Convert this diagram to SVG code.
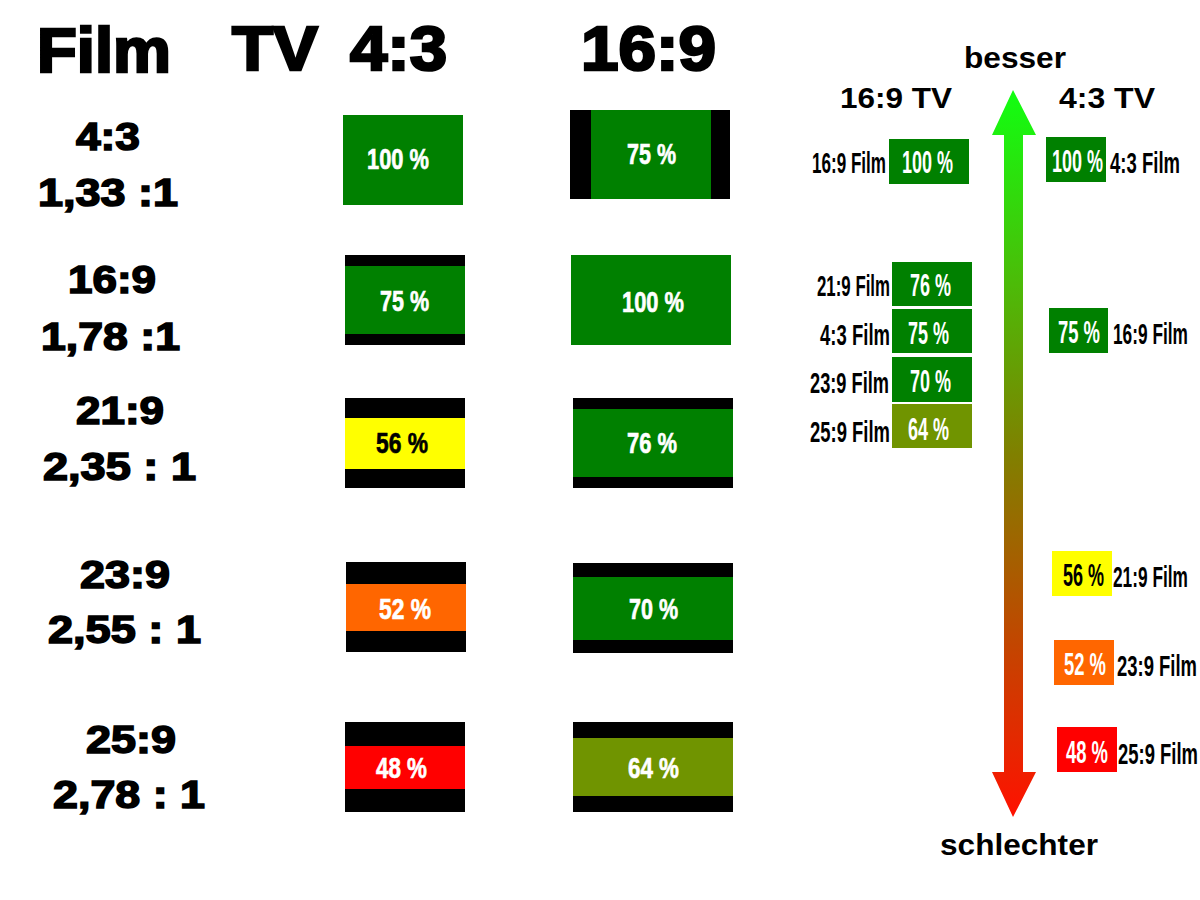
<svg xmlns="http://www.w3.org/2000/svg" width="1200" height="900" viewBox="0 0 1200 900">
<style>
text{font-family:"Liberation Sans",Arial,sans-serif;font-weight:bold}
.h{font-size:63px;fill:#000;stroke:#000;stroke-width:2.6}
.l{font-size:39px;fill:#000;stroke:#000;stroke-width:1.6}
.p{font-size:22px;fill:#fff;stroke:#fff;stroke-width:0.5}
.pk{fill:#000;stroke:#000}
.s{font-size:30px;fill:#000}
.n{font-size:17.5px;fill:#000}
.w{font-size:17.5px;fill:#fff}
.bk{fill:#000}.g{fill:#008000}.y{fill:#ffff00}.o{fill:#ff6600}.r{fill:#ff0000}.ol{fill:#709400}
</style>
<defs>
<linearGradient id="grad" gradientUnits="userSpaceOnUse" x1="0" y1="90" x2="0" y2="817">
<stop offset="0" stop-color="#11ff11"/>
<stop offset="0.5" stop-color="#808000"/>
<stop offset="1" stop-color="#ff1100"/>
</linearGradient>
</defs>
<rect width="1200" height="900" fill="#fff"/>

<g id="headers">
<text class="h" x="37" y="72" textLength="134" lengthAdjust="spacingAndGlyphs">Film</text>
<text class="h" x="232" y="70" textLength="86" lengthAdjust="spacingAndGlyphs">TV</text>
<text class="h" x="350" y="70" textLength="97" lengthAdjust="spacingAndGlyphs">4:3</text>
<text class="h" x="581" y="70" textLength="135" lengthAdjust="spacingAndGlyphs">16:9</text>
</g>

<g id="film-labels">
<text class="l" x="76" y="150" textLength="64" lengthAdjust="spacingAndGlyphs">4:3</text>
<text class="l" x="38" y="206" textLength="140" lengthAdjust="spacingAndGlyphs">1,33 :1</text>
<text class="l" x="68" y="293" textLength="88" lengthAdjust="spacingAndGlyphs">16:9</text>
<text class="l" x="41" y="350" textLength="139" lengthAdjust="spacingAndGlyphs">1,78 :1</text>
<text class="l" x="76" y="424" textLength="88" lengthAdjust="spacingAndGlyphs">21:9</text>
<text class="l" x="43" y="480" textLength="153" lengthAdjust="spacingAndGlyphs">2,35 : 1</text>
<text class="l" x="80" y="588" textLength="90" lengthAdjust="spacingAndGlyphs">23:9</text>
<text class="l" x="48" y="643" textLength="153" lengthAdjust="spacingAndGlyphs">2,55 : 1</text>
<text class="l" x="86" y="753" textLength="90" lengthAdjust="spacingAndGlyphs">25:9</text>
<text class="l" x="53" y="808" textLength="152" lengthAdjust="spacingAndGlyphs">2,78 : 1</text>
</g>

<g id="tv43">
<g id="tv43-r1"><rect class="g" x="343" y="115" width="120" height="90"/>
<text class="p" transform="translate(367,169) scale(1,1.33)" textLength="62" lengthAdjust="spacingAndGlyphs">100 %</text></g>
<g id="tv43-r2"><rect class="bk" x="345" y="255" width="120" height="90"/><rect class="g" x="345" y="266" width="120" height="68"/>
<text class="p" transform="translate(380,311) scale(1,1.33)" textLength="49" lengthAdjust="spacingAndGlyphs">75 %</text></g>
<g id="tv43-r3"><rect class="bk" x="345" y="398" width="120" height="90"/><rect class="y" x="345" y="418" width="120" height="51"/>
<text class="p pk" transform="translate(376,453) scale(1,1.33)" textLength="52" lengthAdjust="spacingAndGlyphs">56 %</text></g>
<g id="tv43-r4"><rect class="bk" x="346" y="562" width="120" height="90"/><rect class="o" x="346" y="584" width="120" height="47"/>
<text class="p" transform="translate(379,619) scale(1,1.33)" textLength="52" lengthAdjust="spacingAndGlyphs">52 %</text></g>
<g id="tv43-r5"><rect class="bk" x="345" y="722" width="120" height="90"/><rect class="r" x="345" y="746" width="120" height="43"/>
<text class="p" transform="translate(376,778) scale(1,1.33)" textLength="51" lengthAdjust="spacingAndGlyphs">48 %</text></g>
</g>

<g id="tv169">
<g id="tv169-r1"><rect class="bk" x="570" y="110" width="160" height="89"/><rect class="g" x="591" y="110" width="120" height="89"/>
<text class="p" transform="translate(627,164) scale(1,1.33)" textLength="49" lengthAdjust="spacingAndGlyphs">75 %</text></g>
<g id="tv169-r2"><rect class="g" x="571" y="255" width="160" height="90"/>
<text class="p" transform="translate(622,312) scale(1,1.33)" textLength="62" lengthAdjust="spacingAndGlyphs">100 %</text></g>
<g id="tv169-r3"><rect class="bk" x="573" y="398" width="160" height="90"/><rect class="g" x="573" y="409" width="160" height="68"/>
<text class="p" transform="translate(627,453) scale(1,1.33)" textLength="50" lengthAdjust="spacingAndGlyphs">76 %</text></g>
<g id="tv169-r4"><rect class="bk" x="573" y="563" width="160" height="90"/><rect class="g" x="573" y="577" width="160" height="63"/>
<text class="p" transform="translate(629,619) scale(1,1.33)" textLength="49" lengthAdjust="spacingAndGlyphs">70 %</text></g>
<g id="tv169-r5"><rect class="bk" x="573" y="722" width="160" height="90"/><rect class="ol" x="573" y="738" width="160" height="58"/>
<text class="p" transform="translate(628,778) scale(1,1.33)" textLength="51" lengthAdjust="spacingAndGlyphs">64 %</text></g>
</g>

<g id="connectors">
<path d="M1013,90 L1036,135 L1023,135 L1023,772 L1036,772 L1013,817 L992,772 L1004,772 L1004,135 L992,135 Z" fill="url(#grad)"/>
</g>

<g id="scale-labels">
<text class="s" x="964" y="68" textLength="102" lengthAdjust="spacingAndGlyphs">besser</text>
<text class="s" x="940" y="855" textLength="158" lengthAdjust="spacingAndGlyphs">schlechter</text>
<text class="s" x="840" y="108" textLength="112" lengthAdjust="spacingAndGlyphs">16:9 TV</text>
<text class="s" x="1059" y="108" textLength="96" lengthAdjust="spacingAndGlyphs">4:3 TV</text>
</g>

<g id="rank169">
<g id="r169-1"><text class="n" transform="translate(812,173) scale(1,1.68)" textLength="74" lengthAdjust="spacingAndGlyphs">16:9 Film</text>
<rect class="g" x="889" y="139" width="80" height="45"/><text class="w" transform="translate(902,173) scale(1,1.75)" textLength="51" lengthAdjust="spacingAndGlyphs">100 %</text></g>
<g id="r169-2"><text class="n" transform="translate(817,296) scale(1,1.68)" textLength="73" lengthAdjust="spacingAndGlyphs">21:9 Film</text>
<rect class="g" x="892" y="262" width="80" height="44"/><text class="w" transform="translate(910,296) scale(1,1.75)" textLength="41" lengthAdjust="spacingAndGlyphs">76 %</text></g>
<g id="r169-3"><text class="n" transform="translate(820,345) scale(1,1.68)" textLength="70" lengthAdjust="spacingAndGlyphs">4:3 Film</text>
<rect class="g" x="892" y="309" width="80" height="44"/><text class="w" transform="translate(908,344) scale(1,1.75)" textLength="41" lengthAdjust="spacingAndGlyphs">75 %</text></g>
<g id="r169-4"><text class="n" transform="translate(810,393) scale(1,1.68)" textLength="79" lengthAdjust="spacingAndGlyphs">23:9 Film</text>
<rect class="g" x="892" y="357" width="80" height="45"/><text class="w" transform="translate(910,392) scale(1,1.75)" textLength="41" lengthAdjust="spacingAndGlyphs">70 %</text></g>
<g id="r169-5"><text class="n" transform="translate(810,442) scale(1,1.68)" textLength="80" lengthAdjust="spacingAndGlyphs">25:9 Film</text>
<rect class="ol" x="892" y="404" width="80" height="44"/><text class="w" transform="translate(908,440) scale(1,1.75)" textLength="41" lengthAdjust="spacingAndGlyphs">64 %</text></g>
</g>

<g id="rank43">
<g id="r43-1"><rect class="g" x="1046" y="137" width="60" height="45"/><text class="w" transform="translate(1052,172) scale(1,1.75)" textLength="51" lengthAdjust="spacingAndGlyphs">100 %</text>
<text class="n" transform="translate(1110,173) scale(1,1.68)" textLength="70" lengthAdjust="spacingAndGlyphs">4:3 Film</text></g>
<g id="r43-2"><rect class="g" x="1049" y="308" width="59" height="45"/><text class="w" transform="translate(1058,343) scale(1,1.75)" textLength="42" lengthAdjust="spacingAndGlyphs">75 %</text>
<text class="n" transform="translate(1113,344) scale(1,1.68)" textLength="75" lengthAdjust="spacingAndGlyphs">16:9 Film</text></g>
<g id="r43-3"><rect class="y" x="1052" y="551" width="60" height="45"/><text class="n" transform="translate(1063,586) scale(1,1.75)" textLength="41" lengthAdjust="spacingAndGlyphs">56 %</text>
<text class="n" transform="translate(1113,587) scale(1,1.68)" textLength="75" lengthAdjust="spacingAndGlyphs">21:9 Film</text></g>
<g id="r43-4"><rect class="o" x="1054" y="640" width="60" height="45"/><text class="w" transform="translate(1064,675) scale(1,1.75)" textLength="42" lengthAdjust="spacingAndGlyphs">52 %</text>
<text class="n" transform="translate(1117,676) scale(1,1.68)" textLength="80" lengthAdjust="spacingAndGlyphs">23:9 Film</text></g>
<g id="r43-5"><rect class="r" x="1057" y="727" width="60" height="45"/><text class="w" transform="translate(1066,763) scale(1,1.75)" textLength="42" lengthAdjust="spacingAndGlyphs">48 %</text>
<text class="n" transform="translate(1118,764) scale(1,1.68)" textLength="80" lengthAdjust="spacingAndGlyphs">25:9 Film</text></g>
</g>
</svg>
